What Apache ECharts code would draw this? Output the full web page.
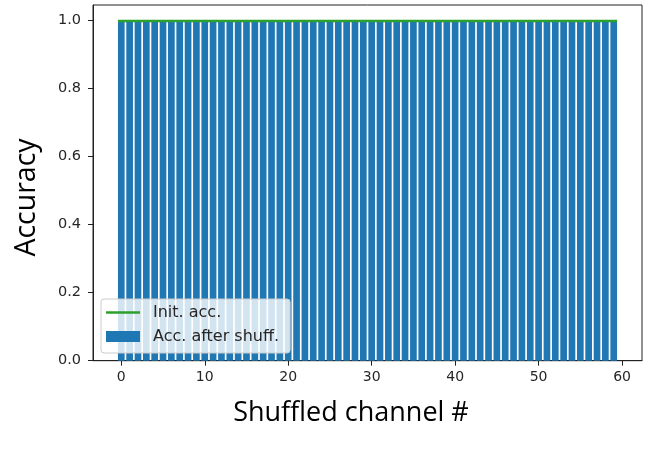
<!DOCTYPE html>
<html>
<head>
<meta charset="utf-8">
<script src="https://cdn.jsdelivr.net/npm/echarts@6/dist/echarts.min.js"></script>
<style>
html,body{margin:0;padding:0;background:#fff;}
#chart{width:653px;height:449px;}
</style>
</head>
<body>
<div id="chart"></div>
<script>
// Channel indices (0..59)
const channels = [0,1,2,3,4,5,6,7,8,9,10,11,12,13,14,15,16,17,18,19,20,21,22,23,24,25,26,27,28,29,30,31,32,33,34,35,36,37,38,39,40,41,42,43,44,45,46,47,48,49,50,51,52,53,54,55,56,57,58,59];
// Accuracy after shuffling each channel
const accAfterShuff = [0.994,0.994,0.994,0.994,0.994,0.994,0.994,0.994,0.994,0.994,0.994,0.994,0.994,0.994,0.994,0.994,0.994,0.994,0.994,0.994,0.994,0.994,0.994,0.994,0.994,0.994,0.994,0.994,0.994,0.994,0.994,0.994,0.994,0.994,0.994,0.994,0.994,0.994,0.994,0.994,0.994,0.994,0.994,0.994,0.994,0.994,0.994,0.994,0.994,0.994,0.994,0.994,0.994,0.994,0.994,0.994,0.994,0.994,0.994,0.994];
// Initial accuracy (horizontal line spanning the bars)
const initAccX = [-0.4, 59.4];
const initAccY = [0.997, 0.997];
// Tick labels
const xTicks = [0,10,20,30,40,50,60];
const yTicks = [0,0.2,0.4,0.6,0.8,1.0];

const chart = echarts.init(document.getElementById('chart'), null, {renderer:'canvas'});
const tickFont = 'DejaVu Sans';
const option = {
  animation:false,
  backgroundColor:'#fff',
  grid:{left:93, top:5, right:11, bottom:88.3, show:true, borderColor:'#222', borderWidth:1, backgroundColor:'transparent'},
  xAxis:{
    type:'value', min:-3.39, max:62.39,
    axisLine:{show:true, onZero:false, lineStyle:{color:'#222', width:1}},
    axisTick:{show:true, length:5, lineStyle:{color:'#222'}, customValues:xTicks},
    axisLabel:{color:'#262626', fontFamily:tickFont, fontSize:14, margin:10, customValues:xTicks, formatter:v=>String(v)},
    splitLine:{show:false}
  },
  yAxis:{
    type:'value', min:0, max:1.044,
    axisLine:{show:true, onZero:false, lineStyle:{color:'#222', width:1}},
    axisTick:{show:true, length:5, lineStyle:{color:'#222'}, customValues:yTicks},
    axisLabel:{color:'#262626', fontFamily:tickFont, fontSize:14.5, margin:12, customValues:yTicks, formatter:v=>v.toFixed(1)},
    splitLine:{show:false}
  },
  legend:{
    orient:'vertical', left:101, top:299,
    padding:[5,11,8,5],
    itemWidth:34, itemHeight:11, itemGap:7,
    backgroundColor:'rgba(255,255,255,0.8)', borderColor:'#cccccc', borderWidth:1, borderRadius:3,
    textStyle:{color:'#262626', fontFamily:tickFont, fontSize:16, lineHeight:17, padding:[0,0,0,8]},
    data:[
      {name:'Init. acc.', icon:'path://M0,0M0,11M0,4.3H34V6.7H0Z'},
      {name:'Acc. after shuff.', icon:'rect'}
    ]
  },
  graphic:[
    {type:'text', x:351, y:413, style:{text:'Shuffled channel #', fill:'#000', font:'27px "Open Sans"', textAlign:'center', textVerticalAlign:'middle'}},
    {type:'text', x:26.5, y:197.5, rotation:Math.PI/2, style:{text:'Accuracy', fill:'#000', font:'28.5px "Open Sans"', textAlign:'center', textVerticalAlign:'middle'}}
  ],
  series:[
    {
      name:'Acc. after shuff.', type:'bar', barWidth:'80%',
      itemStyle:{color:'#1f77b4'},
      data:channels.map((c,i)=>[c, accAfterShuff[i]]),
      z:2
    },
    {
      name:'Init. acc.', type:'line', symbol:'none', showSymbol:false,
      lineStyle:{color:'#2ca02c', width:2.4},
      itemStyle:{color:'#2ca02c'},
      data:initAccX.map((x,i)=>[x, initAccY[i]]),
      z:3
    }
  ]
};
chart.setOption(option);
</script>
</body>
</html>
